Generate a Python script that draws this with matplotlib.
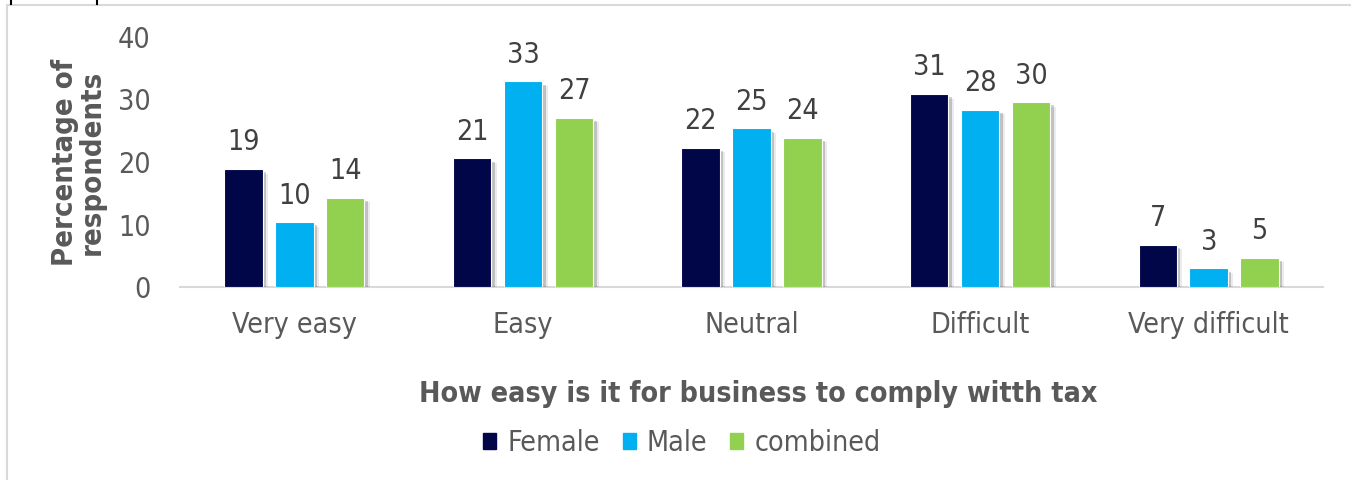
import matplotlib
matplotlib.use("Agg")
import matplotlib.pyplot as plt
import matplotlib.patheffects as pe
from matplotlib.lines import Line2D
from matplotlib.patches import Rectangle
import numpy as np

categories = ["Very easy", "Easy", "Neutral", "Difficult", "Very difficult"]
series_names = ["Female", "Male", "combined"]
female = [18.9, 20.6, 22.3, 30.9, 6.8]
male = [10.4, 32.9, 25.4, 28.4, 3.0]
combined = [14.3, 27.1, 23.9, 29.6, 4.7]
yticks = [0, 10, 20, 30, 40]
colors = ["#000648", "#00B0F0", "#92D050"]
text_color = "#595959"

plt.rcParams["font.family"] = ["DejaVu Sans"]
plt.rcParams["font.stretch"] = "condensed"

FS = 20.5
W, H = 1351, 480
fig = plt.figure(figsize=(W / 100, H / 100), dpi=100)
ax = fig.add_axes([180 / W, 1 - 287 / H, (1323 - 180) / W, (287 - 37) / H])

x = np.arange(len(categories))
width = 0.168
offset = 0.223
shadow = [pe.SimplePatchShadow(offset=(2.5, -2.5), shadow_rgbFace="#000000", alpha=0.18),
          pe.SimplePatchShadow(offset=(4, -3.5), shadow_rgbFace="#000000", alpha=0.08),
          pe.Normal()]
for i, (name, vals) in enumerate(zip(series_names, [female, male, combined])):
    bars = ax.bar(x + (i - 1) * offset, vals, width, color=colors[i], label=name,
                  edgecolor="white", linewidth=0.8, zorder=3)
    for b in bars:
        b.set_path_effects(shadow)
    for xi, v in zip(x + (i - 1) * offset, vals):
        ax.annotate(f"{round(v):d}", (xi, v), xytext=(0, 9), textcoords="offset points",
                    ha="center", va="bottom", fontsize=FS, color="#404040")

ax.set_xlim(-0.5, len(categories) - 0.5)
ax.set_ylim(0, 40)
ax.set_yticks(yticks)
ax.set_yticklabels([str(t) for t in yticks], fontsize=FS, color=text_color)
ax.set_xticks(x)
ax.set_xticklabels(categories, fontsize=FS, color=text_color)
ax.tick_params(axis="both", length=0)
ax.tick_params(axis="y", pad=21)
ax.tick_params(axis="x", pad=17)
for s in ["top", "right", "left"]:
    ax.spines[s].set_visible(False)
ax.spines["bottom"].set_color("#D9D9D9")
ax.spines["bottom"].set_linewidth(1.5)

fig.text(78 / W, 1 - 162 / H, "Percentage of\nrespondents", rotation=90, ha="center", va="center",
         fontsize=FS + 0.5, fontweight="bold", color=text_color, linespacing=0.95)
fig.text(758 / W, 1 - 394 / H, "How easy is it for business to comply witth tax", ha="center",
         va="center", fontsize=FS, fontweight="bold", color=text_color)

handles = [Rectangle((0, 0), 1, 1, color=c) for c in colors]
leg = fig.legend(handles, series_names, loc="center", bbox_to_anchor=(682 / W, 1 - 443 / H),
                 ncol=3, frameon=False, fontsize=FS, handlelength=0.45, handleheight=0.45,
                 handletextpad=0.4, columnspacing=0.8)
for t in leg.get_texts():
    t.set_color(text_color)

# chart area border
fig.add_artist(Line2D([7 / W, 7 / W], [0, 1 - 5 / H], color="#D9D9D9", lw=1.5))
fig.add_artist(Line2D([7 / W, 1], [1 - 5 / H, 1 - 5 / H], color="#D9D9D9", lw=1.5))
fig.add_artist(Line2D([11 / W, 11 / W], [1 - 4 / H, 1], color="black", lw=1.5))
fig.add_artist(Line2D([97 / W, 97 / W], [1 - 4 / H, 1], color="black", lw=1.5))

fig.savefig("out.png", dpi=100)
